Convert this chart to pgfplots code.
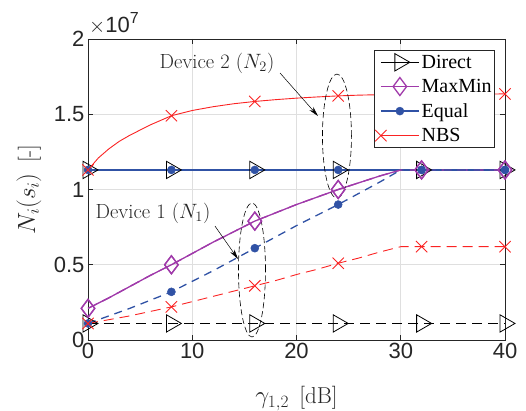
\documentclass[border=0pt]{standalone}
\usepackage{pgfplots}
\pgfplotsset{compat=1.18}
\usepackage{fontspec}
\newfontfamily\arialf{Liberation Sans}
\newfontfamily\timesf{Liberation Serif}
\usetikzlibrary{arrows.meta}
\definecolor{axc}{RGB}{38,38,38}
\definecolor{gridc}{RGB}{223,223,223}
\definecolor{mblue}{RGB}{48,82,165}
\definecolor{mpurple}{RGB}{160,58,170}
\definecolor{mred}{RGB}{250,35,35}
\begin{document}
\begin{tikzpicture}
\begin{axis}[
 scale only axis, width=417pt, height=301pt, clip=false,
 xmin=0, xmax=40, ymin=0, ymax=2,
 xtick={0,10,20,30,40}, ytick={0,0.5,1,1.5,2}, yticklabels={0,0.5,1,1.5,2},
 grid=major, major grid style={gridc, line width=0.6pt},
 axis line style={axc, line width=0.8pt},
 tick style={axc, line width=0.8pt}, tick align=inside, major tick length=5pt,
 tick label style={font=\arialf\fontsize{22}{24}\selectfont, text=axc},
 /pgf/number format/assume math mode=true,
 xlabel={$\gamma_{1,2}$\hspace{0.45em}[dB]}, ylabel={$N_i(s_i)$\hspace{0.45em}[-]},
 label style={font=\fontsize{23}{26}\selectfont, text=axc},
 xlabel style={at={(axis description cs:0.5,-0.2126)}, anchor=base},
 ylabel style={at={(axis description cs:-0.1415,0.5)}, anchor=center},
 legend style={at={(rel axis cs:0.976,0.963)}, anchor=north east,
   font=\timesf\fontsize{20}{22}\selectfont, draw=axc, line width=0.6pt, fill=white,
   inner xsep=1pt, inner ysep=2.5pt, row sep=5.5pt},
 legend cell align=left,
 legend image code/.code={\path[draw=none,fill=none] (0pt,0pt) rectangle (38pt,0pt);
   \draw[mark repeat=2,mark phase=2] plot coordinates {(0pt,0pt)(19pt,0pt)(38pt,0pt)};},
]
% ---- Device 2 (solid) ----
\addplot[black, line width=0.8pt, mark=triangle, mark size=10pt, mark options={rotate=-90, solid, fill=none, line width=0.8pt}]
 coordinates {(0,1.13)(8,1.13)(16,1.13)(24,1.13)(32,1.13)(40,1.13)};
\addlegendentry{Direct}
\addplot[mpurple, line width=1.3pt, mark=diamond, mark size=9pt, mark options={solid, fill=none, line width=1.3pt}, mark repeat=4]
 coordinates {(0,0.21)(2,0.28)(4,0.355)(6,0.43)(8,0.50)(10,0.575)(12,0.65)(14,0.72)(16,0.79)(18,0.845)(20,0.90)(22,0.95)(24,1.00)(26,1.045)(28,1.09)(30,1.13)(32,1.13)(34,1.13)(36,1.13)(38,1.13)(40,1.13)};
\addlegendentry{MaxMin}
\addplot[mblue, line width=1.6pt, mark=*, mark size=4pt, mark options={solid, fill=mblue, line width=0.5pt}]
 coordinates {(0,1.13)(8,1.13)(16,1.13)(24,1.13)(32,1.13)(40,1.13)};
\addlegendentry{Equal}
\addplot[mred, line width=0.9pt, mark=x, mark size=8pt, mark options={solid, line width=0.9pt}, mark indices={1,7,11,15,19,21}]
 coordinates {(0,1.13)(1,1.21)(2,1.27)(3,1.32)(4,1.36)(6,1.43)(8,1.49)(10,1.525)(12,1.55)(14,1.57)(16,1.585)(18,1.597)(20,1.607)(22,1.615)(24,1.622)(26,1.627)(28,1.63)(30,1.632)(32,1.633)(36,1.634)(40,1.635)};
\addlegendentry{NBS}
% ---- Device 1 (dashed) ----
\addplot[forget plot, black, line width=0.8pt, dash pattern=on 10pt off 6pt, mark=triangle, mark size=10pt, mark options={rotate=-90, solid, fill=none, line width=0.8pt}]
 coordinates {(0,0.11)(8,0.11)(16,0.11)(24,0.11)(32,0.11)(40,0.11)};
\addplot[forget plot, mpurple, line width=1.3pt, dash pattern=on 10pt off 6pt, mark=diamond, mark size=9pt, mark options={solid, fill=none, line width=1.3pt}, mark repeat=4]
 coordinates {(0,0.21)(2,0.28)(4,0.355)(6,0.43)(8,0.50)(10,0.575)(12,0.65)(14,0.72)(16,0.79)(18,0.845)(20,0.90)(22,0.95)(24,1.00)(26,1.045)(28,1.09)(30,1.13)(32,1.13)(34,1.13)(36,1.13)(38,1.13)(40,1.13)};
\addplot[forget plot, mblue, line width=1.3pt, dash pattern=on 8pt off 6pt, mark=*, mark size=4pt, mark options={solid, fill=mblue, line width=0.5pt}, mark repeat=4]
 coordinates {(0,0.11)(2,0.16)(4,0.21)(6,0.265)(8,0.32)(10,0.39)(12,0.46)(14,0.535)(16,0.61)(18,0.685)(20,0.76)(22,0.83)(24,0.90)(26,0.975)(28,1.05)(30,1.13)(32,1.13)(34,1.13)(36,1.13)(38,1.13)(40,1.13)};
\addplot[forget plot, mred, line width=0.9pt, dash pattern=on 10pt off 6pt, mark=x, mark size=8pt, mark options={solid, line width=0.9pt}, mark repeat=4]
 coordinates {(0,0.11)(2,0.135)(4,0.16)(6,0.19)(8,0.22)(10,0.255)(12,0.29)(14,0.325)(16,0.36)(18,0.395)(20,0.435)(22,0.47)(24,0.51)(26,0.545)(28,0.585)(30,0.62)(32,0.62)(34,0.62)(36,0.62)(38,0.62)(40,0.62)};
% ---- annotations ----
\node[font=\fontsize{20.5}{22}\selectfont, text=axc] at (axis cs:12.37,1.84) {Device 2 ($N_2$)};
\draw[-{Stealth[length=10pt,width=5pt]}, line width=0.5pt] (axis cs:18.42,1.774) -- (axis cs:22.06,1.488);
\draw[line width=0.6pt, dash pattern=on 6pt off 3pt] (axis cs:23.88,1.355) ellipse [x radius=14.5pt, y radius=62pt];
\node[font=\fontsize{20.5}{22}\selectfont, text=axc] at (axis cs:6.23,0.844) {Device 1 ($N_1$)};
\draw[-{Stealth[length=10pt,width=5pt]}, line width=0.5pt] (axis cs:12.18,0.757) -- (axis cs:14.39,0.538);
\draw[line width=0.6pt, dash pattern=on 6pt off 3pt] (axis cs:15.73,0.465) ellipse [x radius=13.5pt, y radius=67pt];
\node[anchor=base west, inner sep=0pt, text=axc, font=\arialf\fontsize{22}{24}\selectfont] at ([xshift=1pt,yshift=6pt]rel axis cs:0,1) {$\times$10\raisebox{9pt}{\fontsize{16}{18}\selectfont 7}};
\coordinate (sw) at (rel axis cs:0,0);
\coordinate (ne) at (rel axis cs:1,1);
\end{axis}
\pgfresetboundingbox
\useasboundingbox ([shift={(-88pt,-71pt)}]sw) rectangle ([shift={(21pt,39pt)}]ne);
\end{tikzpicture}
\end{document}
